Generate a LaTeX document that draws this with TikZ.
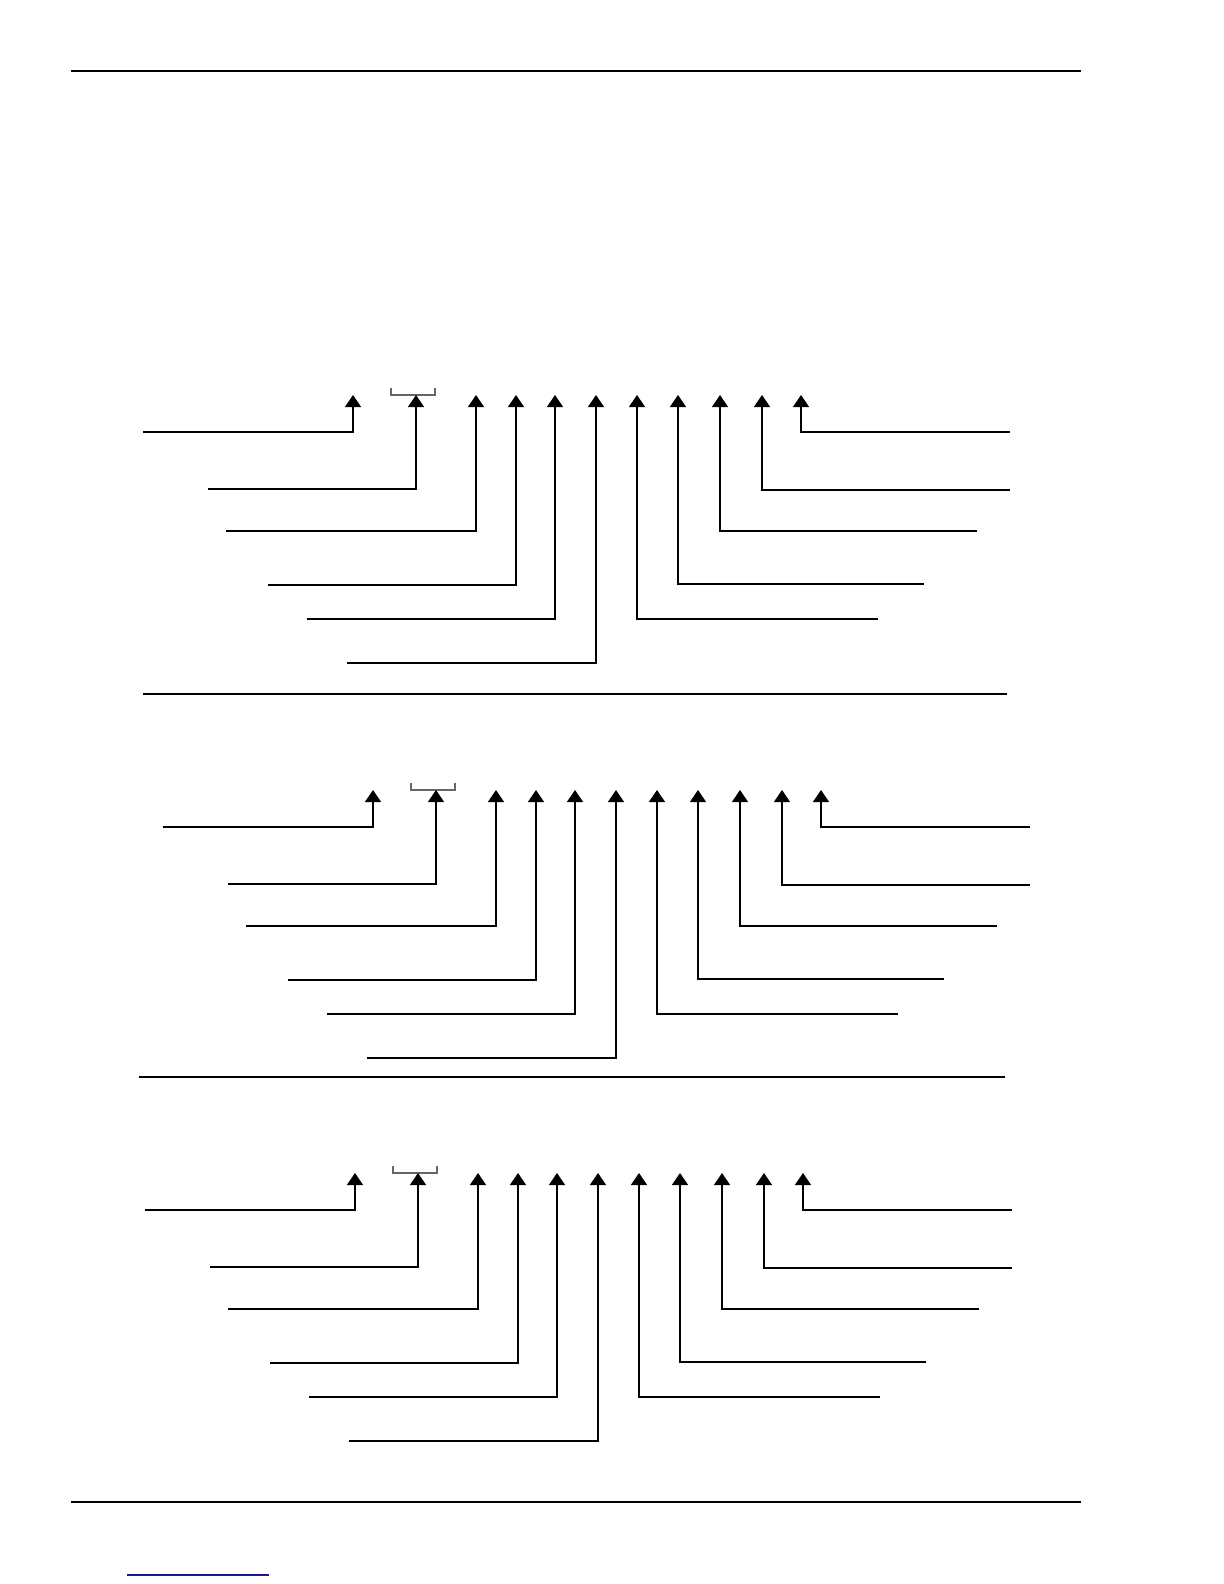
\documentclass[tikz,border=0pt]{standalone}
\usepackage{tikz}
\usetikzlibrary{arrows.meta}
\usetikzlibrary{positioning}
\tikzset{>={Triangle[width=8pt,length=6pt]}, line width=0.5pt}
\tikzstyle{leader} = [->, black, line width=0.65pt]
\tikzstyle{bracket} = [draw=black!60, line width=0.8pt]
\tikzstyle{rule} = [draw, black, line width=1.3pt]
\tikzstyle{separator} = [draw, black, line width=1pt]
\tikzstyle{link} = [draw={rgb,255:red,25;green,25;blue,140}, line width=0.7pt]
% one set of eleven leaders, #1 = name of the set
\newcommand{\fieldset}[1]{%
		\coordinate (#1_t1) at (353,395);
		\coordinate (#1_t2) at (416,395);
		\coordinate (#1_t3) at (476,395);
		\coordinate (#1_t4) at (516,395);
		\coordinate (#1_t5) at (555,395);
		\coordinate (#1_t6) at (596,395);
		\coordinate (#1_t7) at (637,395);
		\coordinate (#1_t8) at (678,395);
		\coordinate (#1_t9) at (720,395);
		\coordinate (#1_t10) at (762,395);
		\coordinate (#1_t11) at (801,395);
		\coordinate (#1_e1) at (143,432);
		\coordinate (#1_e2) at (208,489);
		\coordinate (#1_e3) at (226,531);
		\coordinate (#1_e4) at (268,585);
		\coordinate (#1_e5) at (307,619);
		\coordinate (#1_e6) at (347,663);
		\coordinate (#1_e7) at (878,619);
		\coordinate (#1_e8) at (924,584);
		\coordinate (#1_e9) at (977,531);
		\coordinate (#1_e10) at (1010,490);
		\coordinate (#1_e11) at (1010,432);
		\coordinate (#1_bl) at (391,388);
		\coordinate (#1_br) at (435,388);

		\draw [bracket] (#1_bl) |- (#1_br |- #1_t2) -- (#1_br);
		\draw [leader] (#1_e1) -| (#1_t1);
		\draw [leader] (#1_e2) -| (#1_t2);
		\draw [leader] (#1_e3) -| (#1_t3);
		\draw [leader] (#1_e4) -| (#1_t4);
		\draw [leader] (#1_e5) -| (#1_t5);
		\draw [leader] (#1_e6) -| (#1_t6);
		\draw [leader] (#1_e7) -| (#1_t7);
		\draw [leader] (#1_e8) -| (#1_t8);
		\draw [leader] (#1_e9) -| (#1_t9);
		\draw [leader] (#1_e10) -| (#1_t10);
		\draw [leader] (#1_e11) -| (#1_t11);
}
\begin{document}
\begin{tikzpicture}[x=0.5pt, y=-0.5pt]
		\useasboundingbox (0,0) rectangle (1224,1584);

		\coordinate (top_l) at (71,71);
		\coordinate (top_r) at (1081,71);
		\coordinate (bot_l) at (71,1502);
		\coordinate (bot_r) at (1081,1502);
		\coordinate (sep1_l) at (143,694);
		\coordinate (sep1_r) at (1007,694);
		\coordinate (sep2_l) at (139,1077);
		\coordinate (sep2_r) at (1005,1077);
		\coordinate (link_l) at (127,1575);
		\coordinate (link_r) at (269,1575);

		\draw [rule] (top_l) -- (top_r);
		\draw [rule] (bot_l) -- (bot_r);
		\draw [separator] (sep1_l) -- (sep1_r);
		\draw [separator] (sep2_l) -- (sep2_r);
		\draw [link] (link_l) -- (link_r);

		\begin{scope}
			\fieldset{a}
		\end{scope}
		\begin{scope}[shift={(20,395)}]
			\fieldset{b}
		\end{scope}
		\begin{scope}[shift={(2,778)}]
			\fieldset{c}
		\end{scope}
	\end{tikzpicture}
\end{document}
